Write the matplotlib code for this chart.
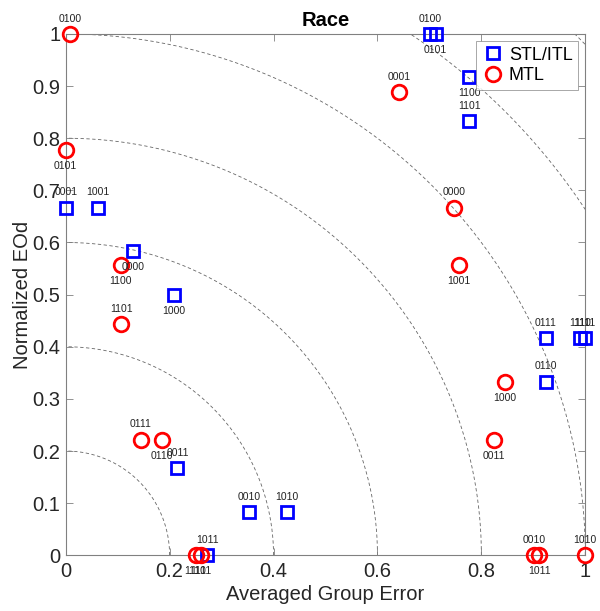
import numpy as np
import matplotlib.pyplot as plt

plt.rcParams['font.family'] = ['Liberation Sans', 'DejaVu Sans']

codes = ['0000', '0001', '0010', '0011', '0100', '0101', '0110', '0111',
         '1000', '1001', '1010', '1011', '1100', '1101', '1110', '1111']

# STL/ITL results
stl_err = [0.129, 0.000, 0.353, 0.215, 0.702, 0.712, 0.924, 0.924,
           0.208, 0.062, 0.425, 0.272, 0.777, 0.777, 0.990, 1.000]
stl_eod = [0.583, 0.667, 0.083, 0.167, 1.000, 1.000, 0.333, 0.417,
           0.500, 0.667, 0.083, 0.000, 0.917, 0.833, 0.417, 0.417]

# MTL results
mtl_err = [0.747, 0.641, 0.902, 0.825, 0.008, 0.000, 0.185, 0.145,
           0.845, 0.757, 1.000, 0.911, 0.106, 0.107, 0.250, 0.260]
mtl_eod = [0.667, 0.889, 0.000, 0.222, 1.000, 0.778, 0.222, 0.222,
           0.333, 0.556, 0.000, 0.000, 0.556, 0.444, 0.000, 0.000]

# which labels sit under their marker
stl_below = {'0101', '1100', '0000', '1000'}
mtl_below = {'0101', '1100', '0110', '1001', '1000', '0011', '1011', '1110', '1111'}

radii = [0.2, 0.4, 0.6, 0.8, 1.0, 1.2, 1.4]

fig = plt.figure(figsize=(6, 6.11), dpi=100)
ax = fig.add_axes([0.1095, 0.0912, 0.866, 0.8532])

theta = np.linspace(0, np.pi / 2, 400)
for r in radii:
    ax.plot(r * np.cos(theta), r * np.sin(theta), '--', color='#666666',
            linewidth=0.6, dashes=(4, 3), zorder=1)

ax.plot(stl_err, stl_eod, 's', linestyle='none', markersize=9,
        markerfacecolor='none', markeredgecolor='#0000ff', markeredgewidth=2,
        clip_on=False, zorder=3, label='STL/ITL')
ax.plot(mtl_err, mtl_eod, 'o', linestyle='none', markersize=10.5,
        markerfacecolor='none', markeredgecolor='#ff0000', markeredgewidth=2,
        clip_on=False, zorder=3, label='MTL')

for code, x, y in zip(codes, stl_err, stl_eod):
    dy = -11.5 if code in stl_below else 11
    ax.annotate(code, (x, y), xytext=(0, dy), textcoords='offset points',
                ha='center', va='center', fontsize=7.5, color='#222222',
                annotation_clip=False, zorder=4)
for code, x, y in zip(codes, mtl_err, mtl_eod):
    dy = -11.5 if code in mtl_below else 11
    ax.annotate(code, (x, y), xytext=(0, dy), textcoords='offset points',
                ha='center', va='center', fontsize=7.5, color='#222222',
                annotation_clip=False, zorder=4)

ax.set_xlim(0, 1)
ax.set_ylim(0, 1)
ax.set_xticks([0, 0.2, 0.4, 0.6, 0.8, 1])
ax.set_xticklabels(['0', '0.2', '0.4', '0.6', '0.8', '1'])
ax.set_yticks(np.round(np.arange(0, 1.01, 0.1), 1))
ax.set_yticklabels(['0'] + [f'{v:.1f}' for v in np.arange(0.1, 0.95, 0.1)] + ['1'])
ax.tick_params(direction='in', top=True, right=True, length=5, width=0.6,
               colors='#808080', labelcolor='#262626', labelsize=14.5, pad=4)
ax.tick_params(axis='x', pad=5)
for s in ax.spines.values():
    s.set_color('#808080')
    s.set_linewidth(0.8)

ax.set_xlabel('Averaged Group Error', fontsize=14.5, color='#262626', labelpad=3)
ax.set_ylabel('Normalized EOd', fontsize=14.5, color='#262626', labelpad=0)
ax.set_title('Race', fontsize=14.5, fontweight='bold', pad=6)

leg = ax.legend(loc='upper right', fontsize=13, frameon=True, fancybox=False,
                borderaxespad=0.4, handletextpad=0.3, handlelength=1.2,
                borderpad=0.3, labelspacing=0.2)
leg.get_frame().set_edgecolor('#808080')
leg.get_frame().set_linewidth(0.6)

fig.savefig('out.png', dpi=100)
